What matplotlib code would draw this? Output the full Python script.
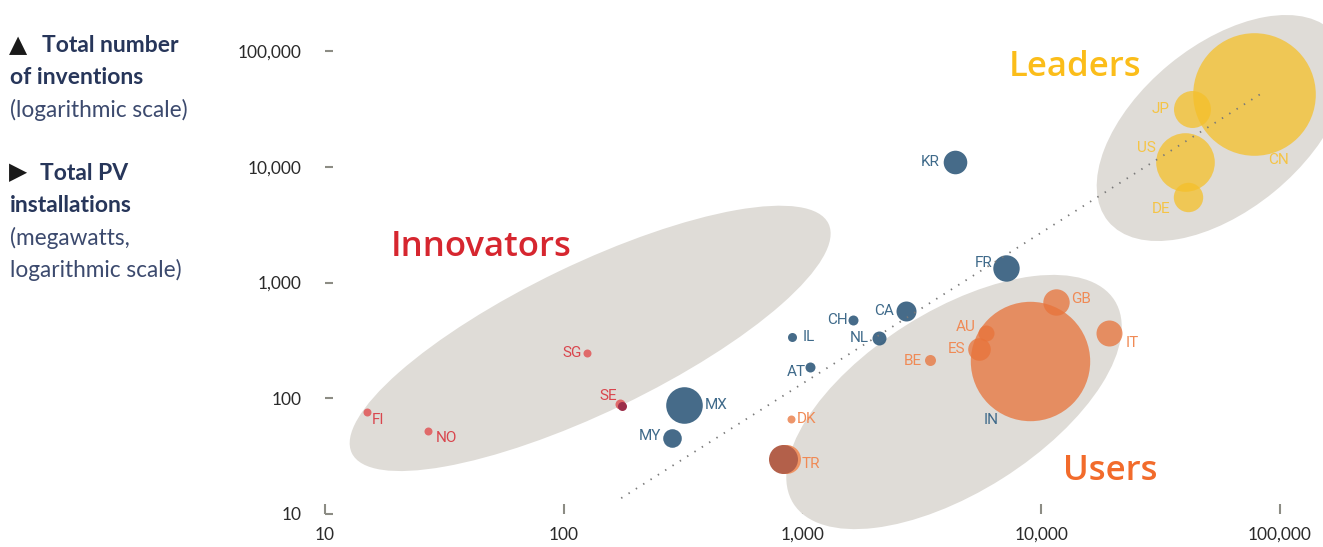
import matplotlib
matplotlib.use("Agg")
import matplotlib.pyplot as plt
from matplotlib.patches import Ellipse
from matplotlib import transforms
from matplotlib.ticker import NullLocator

plt.rcParams['font.family'] = ['Lato', 'DejaVu Sans']

# --- data ---
countries = ['FI', 'NO', 'SG', 'SE', 'MX', 'MY', 'IL', 'AT', 'CH', 'NL', 'CA', 'KR', 'FR',
             'DK', 'TR', 'BE', 'AU', 'ES', 'IN', 'GB', 'IT', 'JP', 'US', 'DE', 'CN']
pv_mw = [15, 27, 125, 175, 318, 285, 906, 1072, 1632, 2091, 2705, 4340, 7120,
         895, 826, 3410, 5890, 5470, 8970, 11560, 19220, 42670, 40130, 41190, 77830]
inventions = [76, 52, 248, 86, 87, 45, 336, 187, 474, 330, 571, 11060, 1330,
              66, 30, 214, 368, 265, 209, 675, 364, 31550, 11060, 5510, 42520]
bubble = [4, 4, 4, 5, 18.3, 9.3, 4.5, 5, 5, 7, 10, 11.8, 13.2,
          4, 14.5, 5.5, 8, 11.3, 59.7, 13.2, 13, 18.5, 29.3, 14.7, 61.3]
group = ['inn'] * 4 + ['mid'] * 9 + ['use'] * 8 + ['lead'] * 4

trend_x = [174, 83800]
trend_y = [13.7, 43100]

x_ticks = [10, 100, 1000, 10000, 100000]
x_labels = ['10', '100', '1,000', '10,000', '100,000']
y_ticks = [10, 100, 1000, 10000, 100000]
y_labels = ['10', '100', '1,000', '10,000', '100,000']

# cluster ellipses: centre (data), full width/height (px), angle
clusters = {
    'Innovators': ((129, 329), 529, 148, 25.7),
    'Users': ((4311, 92.8), 380, 181, 32.3),
    'Leaders': ((57040, 21610), 294, 165, 39.4),
}
titles = {'Innovators': (45, 2030, '#d6262f'),
          'Leaders': (13850, 72700, '#fbbd1a'),
          'Users': (19410, 23.6, '#f26b2b')}

# --- styles ---
dot_color = {'inn': '#e06a6a', 'mid': '#2c5779', 'use': '#e8733a', 'lead': '#f5c02a'}
dot_alpha = {'inn': 1.0, 'mid': 0.88, 'use': 0.75, 'lead': 0.75}
lab_color = {'inn': '#d9454d', 'mid': '#3f6a8a', 'use': '#f08a55', 'lead': '#f5c445'}
# label offsets in px: (dx, dy, ha)
offsets = {
    'FI': (5, -8, 'left'), 'NO': (8, -7, 'left'), 'SG': (-5, 0, 'right'),
    'SE': (-5, 10, 'right'), 'MX': (21, 0, 'left'), 'MY': (-11, 2, 'right'),
    'IL': (10, 0, 'left'), 'AT': (-4, -5, 'right'), 'CH': (-6, 0, 'right'),
    'NL': (-10, 0, 'right'), 'CA': (-12, 0, 'right'), 'KR': (-15, 0, 'right'),
    'FR': (-14, 5, 'right'), 'DK': (6, 0, 'left'), 'TR': (19, -5, 'left'),
    'BE': (-8, -1, 'right'), 'AU': (-11, 6, 'right'), 'ES': (-13, 0, 'right'),
    'IN': (-39, -59, 'center'), 'GB': (15, 3, 'left'), 'IT': (17, -10, 'left'),
    'JP': (-22, 0, 'right'), 'US': (-29, 14, 'right'), 'DE': (-18, -12, 'right'),
    'CN': (14, -66, 'left'),
}

fig = plt.figure(figsize=(13.23, 5.47), dpi=100)
ax = fig.add_axes([325 / 1323, 33 / 547, 955 / 1323, 463 / 547])
ax.set_xscale('log')
ax.set_yscale('log')
ax.set_xlim(10, 100000)
ax.set_ylim(10, 100000)

for name, ((cx, cy), w, h, ang) in clusters.items():
    tr = fig.dpi_scale_trans + transforms.ScaledTranslation(cx, cy, ax.transData)
    ax.add_patch(Ellipse((0, 0), w / 100, h / 100, angle=ang, transform=tr,
                         facecolor='#dfdcd7', edgecolor='none', zorder=1, clip_on=False))

order = sorted(range(len(countries)), key=lambda i: -bubble[i])
for i in order:
    c, g = countries[i], group[i]
    s = (1.44 * bubble[i]) ** 2
    if c == 'TR':
        off = ax.transData + transforms.ScaledTranslation(3 / 100, 0, fig.dpi_scale_trans)
        ax.scatter([pv_mw[i]], [inventions[i]], s=s, color='#ee9363', lw=0,
                   transform=off, zorder=3, clip_on=False)
        ax.scatter([pv_mw[i]], [inventions[i]], s=s, color='#b3604a', lw=0,
                   zorder=3, clip_on=False)
    elif c == 'SE':
        off = ax.transData + transforms.ScaledTranslation(-1.5 / 100, 1.5 / 100, fig.dpi_scale_trans)
        ax.scatter([pv_mw[i]], [inventions[i]], s=s, color='#e06a6a', lw=0,
                   transform=off, zorder=3, clip_on=False)
        ax.scatter([pv_mw[i]], [inventions[i]], s=(1.44 * 4.5) ** 2, color='#9c2e4a', lw=0,
                   zorder=3, clip_on=False)
    else:
        ax.scatter([pv_mw[i]], [inventions[i]], s=s, color=dot_color[g], alpha=dot_alpha[g],
                   lw=0, zorder=3, clip_on=False)

ax.plot(trend_x, trend_y, color='#7a7a7a', lw=1.3, ls=(0, (0.8, 4)), zorder=4, clip_on=False)

for i, c in enumerate(countries):
    dx, dy, ha = offsets[c]
    col = lab_color['mid'] if c == 'IN' else lab_color[group[i]]
    ax.annotate(c, (pv_mw[i], inventions[i]), xytext=(dx * 0.72, dy * 0.72),
                textcoords='offset points', ha=ha, va='center', fontsize=11,
                color=col, family=['Liberation Sans Narrow', 'Roboto'], zorder=5,
                annotation_clip=False)

for name, (tx, ty, col) in titles.items():
    ax.text(tx, ty, name, color=col, fontsize=25, ha='center', va='center',
            family=['Open Sans'], fontweight='semibold', zorder=5)

for s in ax.spines.values():
    s.set_visible(False)
ax.set_axisbelow(True)
ax.set_xticks(x_ticks)
ax.set_xticklabels(x_labels)
ax.set_yticks(y_ticks)
ax.set_yticklabels(y_labels)
ax.xaxis.set_minor_locator(NullLocator())
ax.yaxis.set_minor_locator(NullLocator())
ax.tick_params(axis='x', direction='in', length=7, width=1.5, color='#8c8c84',
               pad=9, labelsize=12.5, labelcolor='#2a2a2a')
ax.tick_params(axis='y', direction='in', length=6, width=1.5, color='#8c8c84',
               pad=17, labelsize=12.5, labelcolor='#2a2a2a')

# left side legend text
navy = '#27365a'
light_navy = '#3c4a6e'
def px(x, y):
    return x / 1323, 1 - y / 547

fig.text(*px(9, 45), '\u25B2', color='#1a1a1a', fontsize=17, va='center',
         family=['DejaVu Sans'])
fig.text(*px(42, 46), 'Total number', color=navy, fontsize=16.5, fontweight='bold', va='center')
fig.text(*px(10, 78), 'of inventions', color=navy, fontsize=16.5, fontweight='bold', va='center')
fig.text(*px(10, 110), '(logarithmic scale)', color=light_navy, fontsize=16.3, va='center')
fig.text(*px(9, 172), '\u25B6', color='#1a1a1a', fontsize=17, va='center',
         family=['DejaVu Sans'])
fig.text(*px(40, 173), 'Total PV', color=navy, fontsize=16.5, fontweight='bold', va='center')
fig.text(*px(10, 205), 'installations', color=navy, fontsize=16.5, fontweight='bold', va='center')
fig.text(*px(10, 238), '(megawatts,', color=light_navy, fontsize=16.3, va='center')
fig.text(*px(10, 270), 'logarithmic scale)', color=light_navy, fontsize=16.3, va='center')

fig.savefig('out.png', dpi=100, facecolor='white')
